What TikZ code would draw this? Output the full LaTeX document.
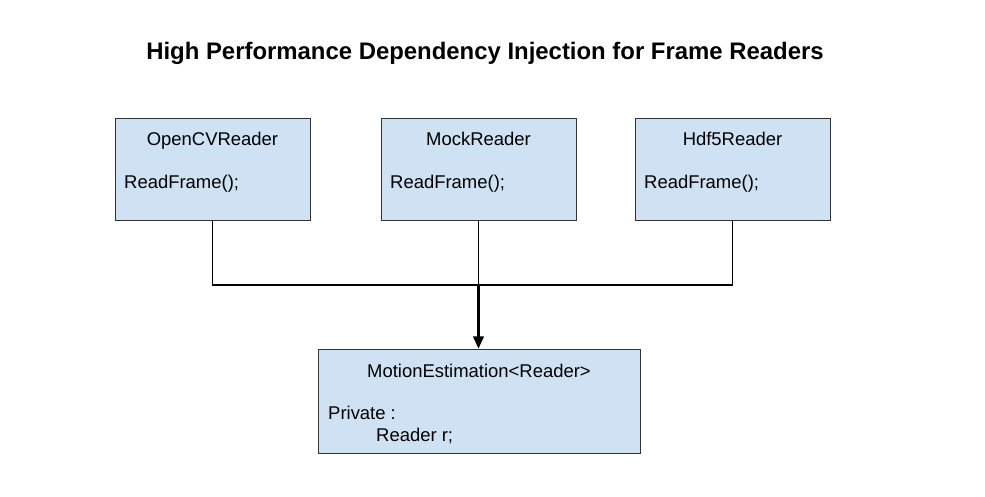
\documentclass[tikz,border=0pt]{standalone}
\usepackage{fontspec}
\setmainfont{Liberation Sans}
\usetikzlibrary{arrows.meta}
\definecolor{boxblue}{HTML}{CFE2F3}
\definecolor{boxline}{HTML}{333333}

\tikzset{
  classbox/.style={draw=boxline, fill=boxblue, rectangle, minimum width=3.9cm, minimum height=2.04cm, inner sep=0pt},
  classname/.style={anchor=base},
  wire/.style={line width=1.1pt, black},
}

\begin{document}
\begin{tikzpicture}[x=0.2mm, y=-0.2mm, font=\fontsize{10.5}{12}\selectfont]
		%%%%% FRAME %%%%%
		\useasboundingbox (0,0) rectangle (985,497);
		
		\node[font=\bfseries\fontsize{13.6}{16}\selectfont] (title) at (485,53) {High Performance Dependency Injection for Frame Readers};
		
		%%%%% READERS %%%%%
		\node[classbox] (opencv) at (212.5,169) {};
		\node[classname] (opencvname) at (212.5,145) {OpenCVReader};
		\node[anchor=west] (opencvfunc) at (118,184) {ReadFrame();};
		
		\node[classbox] (mock) at (478.5,169) {};
		\node[classname] (mockname) at (478.5,145) {MockReader};
		\node[anchor=west] (mockfunc) at (384,184) {ReadFrame();};
		
		\node[classbox] (hdf5) at (732.5,169) {};
		\node[classname] (hdf5name) at (732.5,145) {Hdf5Reader};
		\node[anchor=west] (hdf5func) at (638,184) {ReadFrame();};
		
		%%%%% MOTION %%%%%
		\node[classbox, minimum width=6.44cm, minimum height=2.08cm] (motion) at (479,401) {};
		\node (motionname) at (479,371) {MotionEstimation<Reader>};
		\node[anchor=west] (motionpriv) at (322,413) {Private :};
		\node[anchor=west] (motionmember) at (370,436) {Reader r;};
		
		%%%%% WIRES %%%%%
		\path (mock.south) ++(0,65) coordinate (join);
		\draw[wire] (opencv.south) -- (opencv.south |- join) -- (hdf5.south |- join) -- (hdf5.south);
		\draw[wire] (mock.south) -- (join);
		\draw[wire, line width=1.4pt, -{Triangle[length=7pt, width=6pt]}] (join) -- (join |- motion.north);
	\end{tikzpicture}
\end{document}
